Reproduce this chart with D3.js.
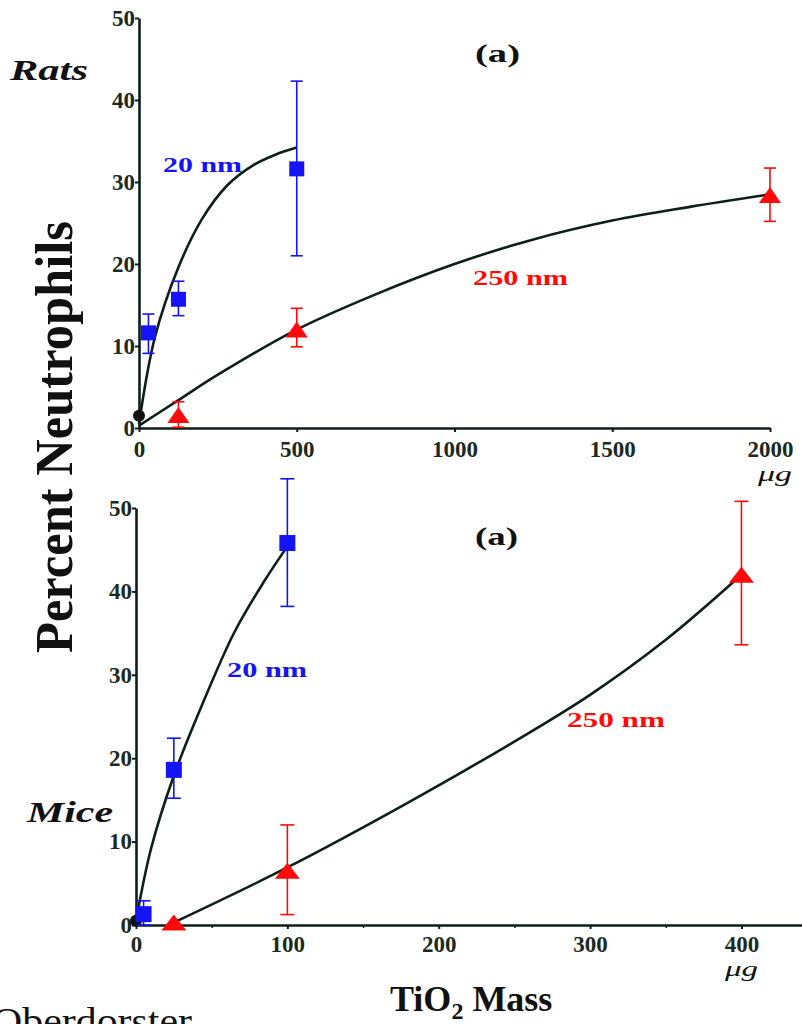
<!DOCTYPE html>
<html>
<head>
<meta charset="utf-8">
<script src="https://cdn.jsdelivr.net/npm/d3@7"></script>
<style>
  body { margin: 0; background: #fff; }
  svg { display: block; font-family: "Liberation Serif", "Times New Roman", serif; }
  .axis path, .axis line { stroke: #0d1f16; }
  .axis text { fill: #1a2a20; font-weight: bold; font-size: 23px; font-family: "Liberation Serif", "Times New Roman", serif; }
</style>
</head>
<body>
<svg id="chart" width="802" height="1024"></svg>
<script>
// ---- rats (top panel) ----
var ratDose20 = [30, 125, 500];
var ratPct20 = [11.6, 15.7, 31.6];
var ratLo20 = [9.1, 13.7, 21.0];
var ratHi20 = [13.9, 17.9, 42.3];

var ratDose250 = [125, 500, 2000];
var ratPct250 = [1.6, 12.0, 28.4];
var ratLo250 = [0.1, 9.9, 25.2];
var ratHi250 = [3.2, 14.6, 31.7];

var ratFit20X = [0, 50, 125, 200, 280, 360, 430, 500];
var ratFit20Y = [0.5, 11.0, 19.6, 25.5, 29.6, 32.0, 33.3, 34.2];
var ratFit250X = [0, 125, 250, 500, 750, 1000, 1250, 1500, 1750, 2000];
var ratFit250Y = [0.3, 3.4, 6.5, 12.0, 16.3, 20.0, 23.0, 25.3, 27.0, 28.5];
var ratControl = [0, 1.5];
var ratTicksX = [0, 500, 1000, 1500, 2000];

// ---- mice (bottom panel) ----
var miceDose20 = [5, 25, 100];
var micePct20 = [1.3, 18.6, 45.8];
var miceLo20 = [0, 15.2, 38.2];
var miceHi20 = [2.9, 22.4, 53.5];

var miceDose250 = [25, 100, 400];
var micePct250 = [0.3, 6.5, 42.0];
var miceLo250 = [0.3, 1.25, 33.6];
var miceHi250 = [0.3, 12.0, 50.8];

var miceFit20X = [0, 10, 25, 43, 65, 85, 100];
var miceFit20Y = [0.5, 9.2, 17.9, 26.1, 35.1, 41.3, 45.4];
var miceFit250X = [25, 100, 175, 250, 300, 350, 400];
var miceFit250Y = [0.3, 6.9, 14.2, 22.0, 27.6, 34.2, 42.0];
var miceControl = [0, 0.5];
var miceTicksX = [0, 100, 200, 300, 400];
var miceMinorX = [50, 150, 250, 350];

var yTicks = [0, 10, 20, 30, 40, 50];

var BLUE = '#1414f5', RED = '#ff0a0a', INK = '#0d1f16';

var svg = d3.select('#chart');

function zip(xs, ys) {
    return xs.map(function (x, i) { return [x, ys[i]]; });
}

function drawPanel(p) {
    var g = svg.append('g').attr('class', 'panel');
    var x = p.x, y = p.y;

    // axes
    g.append('g').attr('class', 'axis')
        .attr('transform', 'translate(' + x(0) + ',0)')
        .call(d3.axisLeft(y).tickValues(yTicks).tickSize(4).tickSizeOuter(0).tickPadding(0))
        .call(function (a) { a.select('.domain').attr('stroke-width', 2.6); a.selectAll('line').attr('stroke-width', 2); });

    g.append('g').attr('class', 'axis')
        .attr('transform', 'translate(0,' + y(0) + ')')
        .call(d3.axisBottom(x).tickValues(p.ticksX).tickFormat(d3.format('d'))
            .tickSize(4).tickSizeOuter(0).tickPadding(p.pad))
        .call(function (a) { a.select('.domain').attr('stroke-width', 2.6); a.selectAll('line').attr('stroke-width', 2); });

    if (p.minorX) {
        g.append('g').attr('class', 'axis')
            .attr('transform', 'translate(0,' + y(0) + ')')
            .call(d3.axisBottom(x).tickValues(p.minorX).tickSize(3).tickFormat(''))
            .call(function (a) { a.select('.domain').remove(); a.selectAll('line').attr('stroke-width', 1.5); });
    }

    // fitted curves
    var line = d3.line()
        .x(function (d) { return x(d[0]); })
        .y(function (d) { return y(d[1]); })
        .curve(d3.curveCatmullRom.alpha(0.5));

    p.fits.forEach(function (f) {
        g.append('path').datum(f)
            .attr('d', line)
            .attr('fill', 'none')
            .attr('stroke', INK)
            .attr('stroke-width', 2.6);
    });

    // control point
    g.append('circle')
        .attr('cx', x(p.control[0])).attr('cy', y(p.control[1]))
        .attr('r', 6).attr('fill', '#111');

    // error bars
    function errorBars(dose, lo, hi, color, cap) {
        var rows = dose.map(function (d, i) { return { d: d, lo: lo[i], hi: hi[i] }; })
            .filter(function (r) { return r.hi > r.lo; });
        var eb = g.append('g').attr('stroke', color).attr('stroke-width', 1.6);
        eb.selectAll('.v').data(rows).enter().append('line')
            .attr('x1', function (r) { return x(r.d); }).attr('x2', function (r) { return x(r.d); })
            .attr('y1', function (r) { return y(r.lo); }).attr('y2', function (r) { return y(r.hi); });
        ['lo', 'hi'].forEach(function (k) {
            eb.selectAll('.c' + k).data(rows).enter().append('line')
                .attr('x1', function (r) { return x(r.d) - cap / 2; })
                .attr('x2', function (r) { return x(r.d) + cap / 2; })
                .attr('y1', function (r) { return y(r[k]); })
                .attr('y2', function (r) { return y(r[k]); });
        });
    }
    errorBars(p.dose20, p.lo20, p.hi20, BLUE, p.cap);
    errorBars(p.dose250, p.lo250, p.hi250, RED, p.cap);

    // markers
    g.selectAll('.sq').data(zip(p.dose20, p.pct20)).enter().append('rect')
        .attr('x', function (d) { return x(d[0]) - p.sq / 2; })
        .attr('y', function (d) { return y(d[1]) - p.sq / 2; })
        .attr('width', p.sq).attr('height', p.sq)
        .attr('fill', BLUE);

    g.selectAll('.tri').data(zip(p.dose250, p.pct250)).enter().append('path')
        .attr('d', function (d) {
            var cx = x(d[0]), cy = y(d[1]), w = p.triW, h = p.triH;
            return 'M' + (cx - w / 2) + ',' + (cy + h / 2) + 'L' + cx + ',' + (cy - h / 2) + 'L' + (cx + w / 2) + ',' + (cy + h / 2) + 'Z';
        })
        .attr('fill', RED);

    return g;
}

function label(txt, x, y, opts) {
    var t = svg.append('text')
        .attr('x', x).attr('y', y)
        .attr('font-size', opts.size)
        .attr('font-weight', opts.weight || 'bold')
        .attr('font-style', opts.italic ? 'italic' : null)
        .attr('fill', opts.color || '#111')
        .text(txt);
    if (opts.len) t.attr('textLength', opts.len).attr('lengthAdjust', 'spacingAndGlyphs');
    return t;
}

// top panel: rats
drawPanel({
    x: d3.scaleLinear().domain([0, 2000]).range([139, 770]),
    y: d3.scaleLinear().domain([0, 50]).range([428, 18]),
    ticksX: ratTicksX, pad: 9,
    fits: [zip(ratFit20X, ratFit20Y), zip(ratFit250X, ratFit250Y)],
    control: ratControl,
    dose20: ratDose20, pct20: ratPct20, lo20: ratLo20, hi20: ratHi20,
    dose250: ratDose250, pct250: ratPct250, lo250: ratLo250, hi250: ratHi250,
    cap: 12, sq: 15, triW: 22, triH: 16
});

// bottom panel: mice
drawPanel({
    x: d3.scaleLinear().domain([0, 440]).range([136, 802]),
    y: d3.scaleLinear().domain([0, 50]).range([925, 508]),
    ticksX: miceTicksX, minorX: miceMinorX, pad: 7,
    fits: [zip(miceFit20X, miceFit20Y), zip(miceFit250X, miceFit250Y)],
    control: miceControl,
    dose20: miceDose20, pct20: micePct20, lo20: miceLo20, hi20: miceHi20,
    dose250: miceDose250, pct250: micePct250, lo250: miceLo250, hi250: miceHi250,
    cap: 14, sq: 16, triW: 25, triH: 16
});

// annotations
label('Rats', 10, 80, { size: 30, italic: true, len: 78 });
label('Mice', 27, 822, { size: 30, italic: true, len: 86 });
label('(a)', 475, 62, { size: 26, len: 45 });
label('(a)', 475, 545, { size: 26, len: 43 });
label('20 nm', 163, 172, { size: 21, color: BLUE, len: 79 });
label('250 nm', 473, 285, { size: 21, color: RED, len: 95 });
label('20 nm', 227, 677, { size: 21, color: BLUE, len: 80 });
label('250 nm', 567, 727, { size: 21, color: RED, len: 98 });

label('\u03bcg', 758, 481, { size: 21, weight: 'normal', italic: true, len: 34 });
label('\u03bcg', 725, 976, { size: 21, weight: 'normal', italic: true, len: 33 });

svg.append('text')
    .attr('transform', 'translate(72,437) rotate(-90)')
    .attr('text-anchor', 'middle')
    .attr('font-size', 52).attr('font-weight', 'bold').attr('fill', '#111')
    .attr('textLength', 432).attr('lengthAdjust', 'spacingAndGlyphs')
    .text('Percent Neutrophils');

var mass = svg.append('text')
    .attr('x', 390).attr('y', 1011)
    .attr('font-size', 36).attr('font-weight', 'bold').attr('fill', '#111');
mass.append('tspan').text('TiO');
mass.append('tspan').attr('font-size', 24).attr('dy', 8).text('2');
mass.append('tspan').attr('dy', -8).text(' Mass');

label('Oberdorster', -8, 1034, { size: 38, weight: 'normal', len: 200 });
</script>
</body>
</html>
